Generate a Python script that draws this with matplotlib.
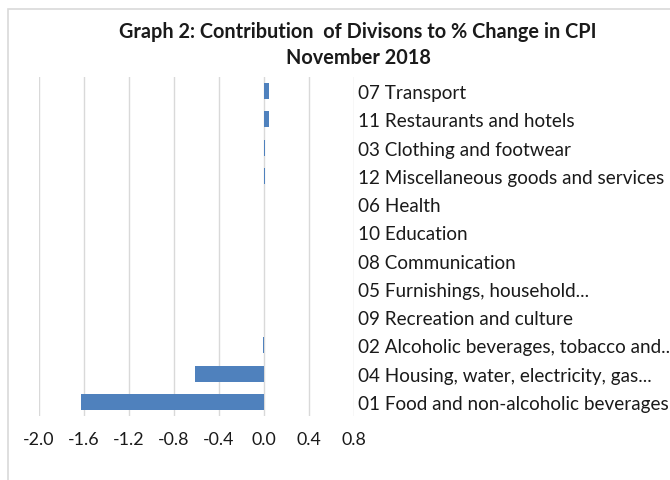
import matplotlib
matplotlib.use('Agg')
import matplotlib.pyplot as plt
from matplotlib.patches import Rectangle

plt.rcParams['font.family'] = ['Lato', 'DejaVu Sans']

# top to bottom as in the chart
divisions = ['07 Transport', '11 Restaurants and hotels', '03 Clothing and footwear',
             '12 Miscellaneous goods and services', '06 Health', '10 Education',
             '08 Communication', '05 Furnishings, household...', '09 Recreation and culture',
             '02 Alcoholic beverages, tobacco and...', '04 Housing, water, electricity, gas...',
             '01 Food and non-alcoholic beverages']
contrib = [0.04, 0.04, 0.005, 0.005, 0.0, 0.0, 0.0, 0.0, 0.0, -0.008, -0.61, -1.63]
xticks = [-2.0, -1.6, -1.2, -0.8, -0.4, 0.0, 0.4, 0.8]

W, H = 670, 481
fig = plt.figure(figsize=(W/100, H/100), dpi=100)
# chart border (cut off at right and bottom in the reference)
fig.patches.append(Rectangle((8/W, -0.1), 1.1, 1 - 10/H + 0.1, transform=fig.transFigure,
                             fill=False, edgecolor='#d9d9d9', lw=1.2))

ax = fig.add_axes([39/W, 1 - 417/H, (354-39)/W, (417-78)/H])
ypos = list(range(len(divisions)))[::-1]
ax.barh(ypos, contrib, height=0.56, color='#4f81bd', lw=0, zorder=3)
ax.set_xlim(-2.0, 0.8)
ax.set_ylim(-0.5, len(divisions) - 0.5)
ax.set_xticks(xticks)
ax.set_xticklabels([f'{t:.1f}' for t in xticks])
ax.set_yticks(ypos)
ax.set_yticklabels(divisions)
ax.yaxis.tick_right()
ax.tick_params(axis='y', length=0, pad=3, labelsize=13.6, labelcolor='#1a1a1a')
ax.tick_params(axis='x', length=0, pad=11, labelsize=12.8, labelcolor='#1a1a1a')
ax.grid(axis='x', color='#d9d9d9', lw=1, zorder=0)
for s in ax.spines.values():
    s.set_visible(False)

fig.text(358/W, 1 - 32/H, 'Graph 2: Contribution  of Divisons to % Change in CPI',
         ha='center', va='center', fontsize=14.3, fontweight='bold', color='#1a1a1a')
fig.text(358/W, 1 - 58/H, 'November 2018', ha='center', va='center',
         fontsize=14.3, fontweight='bold', color='#1a1a1a')

fig.savefig('out.png', dpi=100)
